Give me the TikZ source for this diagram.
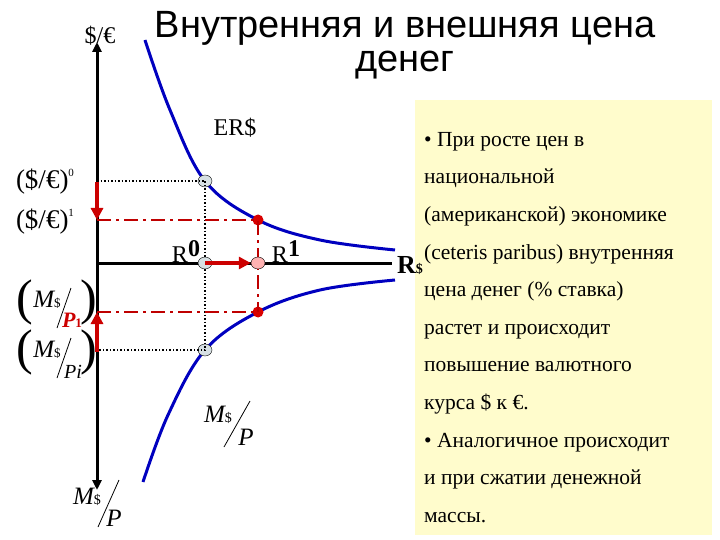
\documentclass[tikz,border=0pt]{standalone}
\usepackage{fontspec}
\setmainfont{Liberation Serif}
\newfontfamily\titlefont{Liberation Sans}
\usetikzlibrary{arrows.meta,shapes.geometric}
\begin{document}
\begin{tikzpicture}[x=1pt,y=-1pt,
 curve/.style={line width=3pt,color=blue!75!black},
 dotl/.style={dotted,line width=1.5pt},
 rdash/.style={line width=2pt,color=red!75!black,dash pattern=on 14pt off 5pt on 3pt off 5pt},
 rarrow/.style={line width=3.5pt,color=red!80!black,-{Triangle[length=12pt,width=12pt]}},
 bluept/.style={ellipse,draw=black,fill=cyan!20!gray!30,minimum width=14pt,minimum height=12pt,inner sep=0pt},
 redpt/.style={circle,fill=red!85!black,minimum size=11pt,inner sep=0pt},
 lbl/.style={inner sep=0pt,font=\fontsize{27}{29}\selectfont},
 it/.style={inner sep=0pt,font=\fontsize{25}{26}\selectfont\itshape}]
\useasboundingbox (0,0) rectangle (720,540);
\fill[yellow!20] (415,100) rectangle (712,535);
% axes
\coordinate (o) at (97,263);
\coordinate (top) at (97,42);
\coordinate (bot) at (97,490);
\coordinate (rt) at (392,263);
\draw[line width=3pt,-{Triangle[length=10pt,width=9pt]}] (o) -- (top);
\draw[line width=3pt,-{Triangle[length=10pt,width=9pt]}] (o) -- (bot);
\draw[line width=3pt] (o) -- (rt);
% curves
\draw[curve] plot[smooth,tension=0.6] coordinates {(145,40) (170,110) (205,181) (258,220) (320,240) (395,250)};
\draw[curve] plot[smooth,tension=0.6] coordinates {(143,482) (168,415) (205,350) (258,312) (320,290) (395,280)};
% guides
\coordinate (a0) at (97,181); \coordinate (a1) at (97,220);
\coordinate (b1) at (97,312); \coordinate (b0) at (97,350);
\node[bluept] (p0) at (205,181) {};
\node[bluept] (q0) at (205,350) {};
\node[redpt] (p1) at (258,220) {};
\node[redpt] (q1) at (258,312) {};
\draw[dotl] (a0) -- (p0.center) -- (q0.center) -- (b0);
\draw[rdash] (a1) -- (p1.center) -- (q1.center);
\draw[rdash] (b1) -- (q1.center);
\node[bluept] (r0) at (205,263) {};
\node[ellipse,draw=black,fill=red!30,minimum width=14pt,minimum height=12pt,inner sep=0pt] (r1) at (258,263) {};
\draw[rarrow] (r0.center) -- (r1.west);
\draw[rarrow] (97,182) -- (a1);
\draw[rarrow] (97,352) -- (b1);
% labels
\node[lbl,font=\fontsize{24}{26}\selectfont] (t0) at (100,36) {\$/€};
\node[inner sep=0pt,font=\titlefont\fontsize{38}{38}\selectfont,align=center] (title) at (405,45) {Внутренняя и внешняя цена\\[-4pt] денег};
\node[lbl,font=\fontsize{24}{26}\selectfont] (er) at (235,128) {ER\$};
\node[lbl] (e0) at (45,182) {(\$/€)\raisebox{12pt}{\fontsize{11}{11}\selectfont 0}};
\node[lbl] (e1) at (45,222) {(\$/€)\raisebox{12pt}{\fontsize{11}{11}\selectfont 1}};
\node[lbl,font=\fontsize{24}{26}\selectfont] (R0) at (186,252) {R\raisebox{6pt}{\textbf{0}}};
\node[lbl,font=\fontsize{24}{26}\selectfont] (R1) at (286,252) {R\raisebox{6pt}{\textbf{1}}};
\node[inner sep=0pt,font=\fontsize{26}{26}\selectfont\bfseries] (Rd) at (410,266) {R\fontsize{14}{14}\selectfont\$};
% M/P labels
\node[inner sep=0pt,font=\fontsize{50}{50}\selectfont] (lp1) at (25,302) {(};
\node[it] (m1) at (47,300) {M\upshape\fontsize{13}{13}\selectfont\$};
\draw[line width=0.8pt] (71,288) -- (57,328);
\node[inner sep=0pt,font=\fontsize{22}{22}\selectfont\itshape\bfseries,text=red!80!black] (p1l) at (72,320) {P\fontsize{13}{13}\selectfont\upshape\bfseries 1};
\node[inner sep=0pt,font=\fontsize{50}{50}\selectfont] (rp1) at (89,302) {)};
\node[inner sep=0pt,font=\fontsize{50}{50}\selectfont] (lp2) at (25,352) {(};
\node[it] (m2) at (47,350) {M\upshape\fontsize{13}{13}\selectfont\$};
\draw[line width=0.8pt] (71,338) -- (57,378);
\node[inner sep=0pt,font=\fontsize{20}{20}\selectfont\itshape] (pi) at (73,372) {Pi};
\node[inner sep=0pt,font=\fontsize{50}{50}\selectfont] (rp2) at (89,352) {)};
\node[it] (m3) at (87,497) {M\upshape\fontsize{14}{14}\selectfont\$};
\draw[line width=0.8pt] (119,480) -- (98,527);
\node[it] (p3) at (114,518) {P};
\node[it] (m4) at (218,415) {M\upshape\fontsize{14}{14}\selectfont\$};
\draw[line width=0.8pt] (250,401) -- (224,447);
\node[it] (p4) at (246,437) {P};
% text box
\node[anchor=north west,inner sep=0pt,align=left,font=\fontsize{21.5}{37.6}\selectfont] (txt) at (424,132) {%
• При росте цен в\\
национальной\\
(американской) экономике\\
(ceteris paribus) внутренняя\\
цена денег (\% ставка)\\
растет и происходит\\
повышение валютного\\
курса \$ к €.\\
• Аналогичное происходит\\
и при сжатии денежной\\
массы.};
\end{tikzpicture}
\end{document}
